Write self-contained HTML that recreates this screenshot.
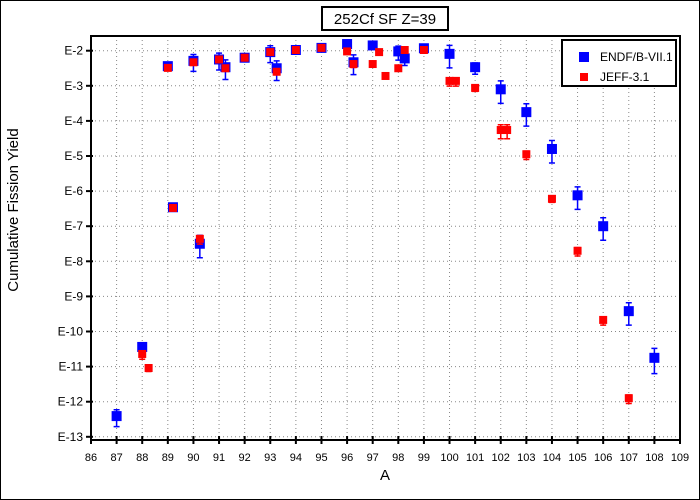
<!DOCTYPE html>
<html><head><meta charset="utf-8"><style>
body{margin:0;background:#fff}
svg{display:block;font-family:"Liberation Sans",sans-serif}
</style></head><body>
<svg id="c" width="700" height="500">
<rect x="0.5" y="0.5" width="699" height="499" fill="#fff" stroke="#000"/>
<rect x="322" y="7" width="126" height="23" fill="#fff" stroke="#000" stroke-width="2"/>
<text x="385" y="24" text-anchor="middle" font-size="15">252Cf SF Z=39</text>
<text transform="translate(18,210) rotate(-90)" text-anchor="middle" font-size="15">Cumulative Fission Yield</text>
<text x="385" y="480" text-anchor="middle" font-size="15">A</text>
<g id="grid"></g><g id="axes"></g><g id="marks"></g>
<g>
<rect x="562" y="40" width="114" height="46" fill="#fff" stroke="#000" stroke-width="2"/>
<rect x="579" y="52" width="10" height="10" fill="#0000ff"/>
<text x="600" y="61" font-size="12">ENDF/B-VII.1</text>
<rect x="580" y="73" width="8" height="8" fill="#ff0000"/>
<text x="600" y="81" font-size="12">JEFF-3.1</text>
</g>
</svg>
<script>
const xTicks=[86,87,88,89,90,91,92,93,94,95,96,97,98,99,100,101,102,103,104,105,106,107,108,109];
const yTicks=[-2,-3,-4,-5,-6,-7,-8,-9,-10,-11,-12,-13];
const endfA=[87,88,89,89.2,90,90.25,91,91.25,92,93,93.25,94,95,96,96.25,97,98,98.25,99,100,101,102,103,104,105,106,107,108];
const endfY=[-12.41,-10.44,-2.44,-6.46,-2.29,-7.5,-2.25,-2.47,-2.2,-2.04,-2.5,-1.98,-1.92,-1.81,-2.33,-1.85,-2.02,-2.22,-1.93,-2.09,-2.47,-3.1,-3.75,-4.8,-6.12,-7.0,-9.42,-10.75];
const endfErr=[0.3,0.2,0.05,0.05,0.3,0.4,0.3,0.35,0.05,0.3,0.35,0.05,0.05,0.05,0.35,0.05,0.25,0.2,0.05,0.4,0.2,0.4,0.4,0.4,0.4,0.4,0.4,0.45];
const jeffA=[88,88.25,89,89.2,90,90.25,91,91.25,92,93,93.25,94,95,96,96.25,97,97.25,97.5,98,98.25,99,100,100.25,101,102,102.25,103,104,105,106,107];
const jeffY=[-10.64,-11.04,-2.49,-6.48,-2.33,-7.36,-2.25,-2.5,-2.2,-2.04,-2.6,-1.98,-1.92,-2.02,-2.38,-2.38,-2.04,-2.72,-2.5,-1.98,-1.98,-2.86,-2.86,-3.06,-4.26,-4.26,-4.95,-6.22,-7.7,-9.67,-11.9];
const jeffErr=[0.15,0.1,0,0,0.05,0.15,0,0,0,0,0.05,0,0,0,0.1,0,0,0,0,0,0,0.15,0.15,0.1,0.25,0.25,0.15,0.1,0.15,0.15,0.15];
const L=91,R=680,T=36,B=440;
const sx=a=>L+(a-86)*(R-L)/23;
const sy=v=>50.7+(-2-v)*35.1;
const NS="http://www.w3.org/2000/svg";
function mk(p,t,at){const e=document.createElementNS(NS,t);for(const k in at)e.setAttribute(k,at[k]);p.appendChild(e);return e;}
const grid=document.getElementById('grid'),axes=document.getElementById('axes'),marks=document.getElementById('marks');
xTicks.forEach(a=>{const x=sx(a);
 if(a>86&&a<109){const g=mk(grid,'line',{x1:x,x2:x,y1:T,y2:B,stroke:'#888','stroke-dasharray':'1,3'});
 
 }
 const t=mk(axes,'line',{x1:x,x2:x,y1:B-4,y2:B+4,stroke:'#000','stroke-width':2});
 
 
 const l=mk(axes,'text',{x:x,y:B+21,'text-anchor':'middle','font-size':11});l.textContent=a;
 
 });
yTicks.forEach(v=>{const y=sy(v);
 const g=mk(grid,'line',{x1:L,x2:R,y1:y,y2:y,stroke:'#888','stroke-dasharray':'1,3'});
 
 
 const t=mk(axes,'line',{x1:L-5,x2:L+2,y1:y,y2:y,stroke:'#000','stroke-width':2});
 
 
 const l=mk(axes,'text',{x:L-8,y:y+4,'text-anchor':'end','font-size':12});l.textContent='E'+v;
 
 });
const fr=mk(axes,'rect',{x:L,y:T,width:R-L,height:B-T,fill:'none',stroke:'#000','stroke-width':2});


function series(A,Y,E,col,sz,name){A.forEach((a,i)=>{const x=sx(a),y=sy(Y[i]);
 if(E[i]>0){const y1=sy(Y[i]+E[i]*0.6),y2=sy(Y[i]-E[i]);
  const eb=mk(marks,'path',{d:`M${x},${y1}V${y2}M${x-3},${y1}H${x+3}M${x-3},${y2}H${x+3}`,stroke:col,'stroke-width':1.5,fill:'none'});
  
  }
 const r=mk(marks,'rect',{x:x-sz/2,y:y-sz/2,width:sz,height:sz,fill:col});
 
 });}
series(endfA,endfY,endfErr,'#0000ff',10,'endf');
series(jeffA,jeffY,jeffErr,'#ff0000',8,'jeff');
</script>
</body></html>
